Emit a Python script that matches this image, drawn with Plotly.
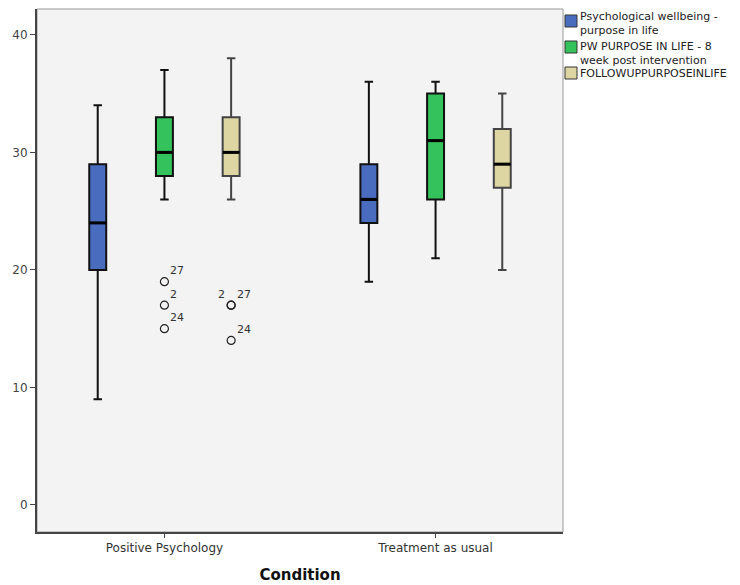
import plotly.graph_objects as go

# ---- data ----
categories = ["Positive Psychology", "Treatment as usual"]
series_names = ["Psychological wellbeing -<br>purpose in life",
                "PW PURPOSE IN LIFE - 8<br>week post intervention",
                "FOLLOWUPPURPOSEINLIFE"]
series_colors = ["#4a6cbf", "#33c25b", "#ddd5a2"]

lower_fence = [[9, 19], [26, 21], [26, 20]]
q1_vals     = [[20, 24], [28, 26], [28, 27]]
median_vals = [[24, 26], [30, 31], [30, 29]]
q3_vals     = [[29, 29], [33, 35], [33, 32]]
upper_fence = [[34, 36], [37, 36], [38, 35]]

# outliers: (series index, category index, value, case label, label side)
outlier_series = [1, 1, 1, 2, 2, 2]
outlier_cat    = [0, 0, 0, 0, 0, 0]
outlier_value  = [19, 17, 15, 17, 17, 14]
outlier_label  = ["27", "2", "24", "2", "27", "24"]
outlier_side   = ["right", "right", "right", "left", "right", "right"]

y_ticks = [0, 10, 20, 30, 40]

# ---- layout constants ----
offsets = [-0.246, 0.0, 0.246]
box_width = 0.0625
font_family = "DejaVu Sans"
whisker_colors = ["#111", "#111", "#444"]

# page has an 8px body margin; figure coords = screen coords - 8
L, T, R, B = 29, 1, 555, 524          # plot area in figure coords
FIG_W, FIG_H = 732, 577
PW, PH = R - L, B - T

def px(xs):   # figure x pixel -> paper
    return (xs - L) / PW

def py(ys):   # figure y pixel -> paper
    return 1 - (ys - T) / PH

fig = go.Figure()

for s in range(3):
    xs = [c + offsets[s] for c in range(len(categories))]
    fig.add_trace(go.Box(
        x=xs, q1=q1_vals[s], median=median_vals[s], q3=q3_vals[s],
        lowerfence=lower_fence[s], upperfence=upper_fence[s],
        width=box_width, whiskerwidth=0.5,
        fillcolor=series_colors[s],
        line=dict(color=whisker_colors[s], width=2),
        boxpoints=False, showlegend=False, hoverinfo="skip"))
    # thicker median lines
    for c in range(len(categories)):
        fig.add_trace(go.Scatter(
            x=[xs[c] - box_width / 2, xs[c] + box_width / 2],
            y=[median_vals[s][c], median_vals[s][c]],
            mode="lines", line=dict(color="black", width=3),
            showlegend=False, hoverinfo="skip"))

# outliers
ox = [outlier_cat[i] + offsets[outlier_series[i]] for i in range(len(outlier_value))]
fig.add_trace(go.Scatter(
    x=ox, y=outlier_value, mode="markers",
    marker=dict(symbol="circle-open", size=8, color="#222", line=dict(width=1.2)),
    showlegend=False, hoverinfo="skip"))

annotations = []
for i in range(len(outlier_value)):
    right = outlier_side[i] == "right"
    annotations.append(dict(
        x=ox[i], y=outlier_value[i], xref="x", yref="y",
        text=outlier_label[i], showarrow=False,
        xanchor="left" if right else "right",
        xshift=4 if right else -4, yshift=11,
        font=dict(family=font_family, size=11, color="#333")))

# manual legend (positions in screen px): square top, text block centre
legend_rows = [(15, 23.5), (41, 53), (67, 73)]
for s, (sq_top, text_y) in enumerate(legend_rows):
    fig.add_shape(type="rect", xref="paper", yref="paper",
                  x0=px(565 - 8), x1=px(577 - 8),
                  y0=py(sq_top + 12 - 8), y1=py(sq_top - 8),
                  fillcolor=series_colors[s], line=dict(color="#333", width=1))
    annotations.append(dict(
        x=px(579 - 8), y=py(text_y - 8), xref="paper", yref="paper",
        text=series_names[s], showarrow=False, xanchor="left", yanchor="middle",
        align="left", borderpad=0,
        font=dict(family=font_family, size=11, color="#222")))

# plot frame (light top/right)
fig.add_shape(type="rect", xref="paper", yref="paper", x0=0, x1=1, y0=0, y1=1,
              line=dict(color="#999", width=1), layer="below")

fig.update_layout(
    width=FIG_W, height=FIG_H,
    margin=dict(l=L, r=FIG_W - R, t=T, b=FIG_H - B, autoexpand=False),
    paper_bgcolor="white", plot_bgcolor="#f3f3f3",
    boxmode="overlay",
    annotations=annotations,
    font=dict(family=font_family, size=11, color="#333"),
    xaxis=dict(
        range=[-0.47, 1.47], tickmode="array",
        tickvals=list(range(len(categories))), ticktext=categories,
        ticks="outside", ticklen=4, tickcolor="#444",
        showline=True, linecolor="#444", linewidth=2,
        showgrid=False, zeroline=False,
        tickfont=dict(family=font_family, size=12, color="#333"),
        title=dict(text="<b>Condition</b>", standoff=15,
                   font=dict(family=font_family, size=15, color="#111"))),
    yaxis=dict(
        range=[-2.3, 42.2], tickmode="array", tickvals=y_ticks,
        ticks="outside", ticklen=5, tickcolor="#444",
        showline=True, linecolor="#444", linewidth=2,
        showgrid=False, zeroline=False,
        tickfont=dict(family=font_family, size=12, color="#444")),
)

fig.write_html("out.html")
